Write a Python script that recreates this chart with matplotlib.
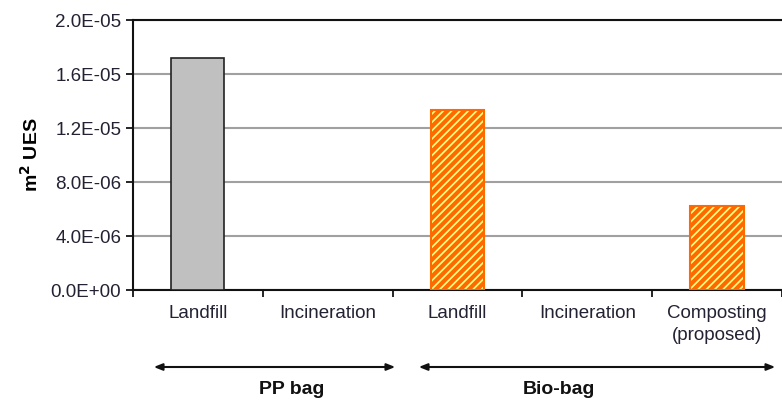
import matplotlib.pyplot as plt
import matplotlib.patches as mpatches
import numpy as np

plt.rcParams['font.family'] = ['Liberation Sans', 'DejaVu Sans']
plt.rcParams['hatch.linewidth'] = 3.0
plt.rcParams['hatch.color'] = '#ff6a00'

# scenario labels and UES values (m2)
scenarios = ["Landfill", "Incineration", "Landfill", "Incineration", "Composting\n(proposed)"]
ues = [1.72e-05, 0.0, 1.333e-05, 0.0, 6.2e-06]
bag_type = ["PP", "PP", "Bio", "Bio", "Bio"]
groups = ["PP bag", "Bio-bag"]
yticks = [0.0, 4.0e-06, 8.0e-06, 1.2e-05, 1.6e-05, 2.0e-05]

text_col = '#222233'

fig = plt.figure(figsize=(7.82, 4.04), dpi=100)
ax = fig.add_axes([0.170, 0.282, 0.830, 0.668])

x = np.arange(len(scenarios))
for xi, val, bt in zip(x, ues, bag_type):
    if val <= 0:
        continue
    if bt == "PP":
        ax.bar(xi, val, width=0.41, color='#c0c0c0', edgecolor='#222222', linewidth=1.2, zorder=3)
    else:
        ax.bar(xi, val, width=0.41, color='#ffff80', edgecolor='#ff6a00', hatch='////', linewidth=1.5, zorder=3)

ax.set_ylim(0, 2.0e-05)
ax.set_xlim(-0.5, 4.45)
ax.set_yticks(yticks)
ax.set_yticklabels([f"{v:.1E}" for v in yticks], fontsize=13.5, color=text_col)
ax.yaxis.grid(True, color='#a0a0a0', linewidth=1.5, zorder=0)
ax.set_axisbelow(True)

# category boundaries carry the ticks, labels sit in between
ax.set_xticks(np.arange(-0.5, 5.0, 1.0))
ax.set_xticklabels([])
ax.set_xticks(x, minor=True)
ax.set_xticklabels(scenarios, minor=True, fontsize=13.5, color=text_col, linespacing=1.35)
ax.tick_params(axis='x', which='minor', length=0, pad=11)
ax.tick_params(axis='x', which='major', length=5, width=1.2, direction='out')
ax.tick_params(axis='y', length=5, width=1.2, direction='out')

ax.spines['right'].set_visible(False)
for side in ['left', 'bottom', 'top']:
    ax.spines[side].set_linewidth(1.5)
    ax.spines[side].set_color('#111111')

ax.set_ylabel("m$^\\mathbf{2}$ UES", fontsize=14, fontweight='bold', labelpad=6)

# group arrows below the categories
arrow_y = 1 - 367 / 404
label_y = 1 - 390 / 404
spans = [(151 / 782, 398 / 782), (416 / 782, 778 / 782)]
for x0, x1 in spans:
    fig.add_artist(mpatches.FancyArrowPatch(
        (x0, arrow_y), (x1, arrow_y), transform=fig.transFigure,
        arrowstyle='<|-|>,head_length=0.5,head_width=0.2', color='#111111',
        linewidth=1.5, mutation_scale=10))
centers = [292 / 782, 559 / 782]
for cx, name in zip(centers, groups):
    fig.text(cx, label_y, name, ha='center', va='center', fontsize=14, fontweight='bold', color='#111111')

fig.savefig("out.png", dpi=100)
